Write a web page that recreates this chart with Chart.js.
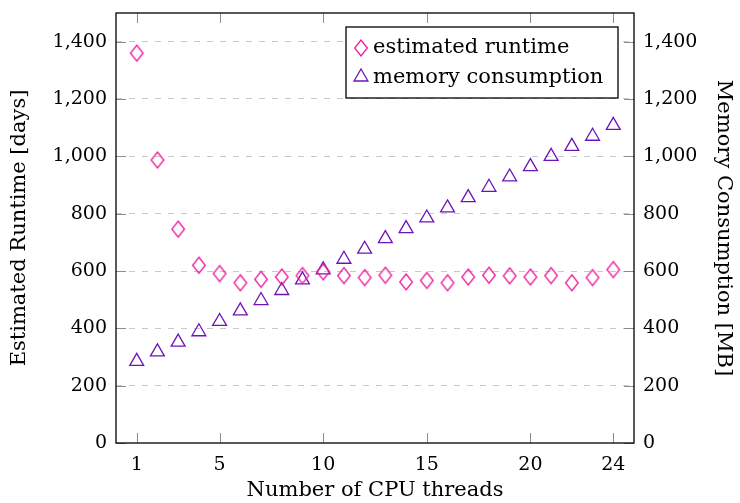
<!DOCTYPE html>
<html>
<head>
<meta charset="utf-8">
<script src="https://cdn.jsdelivr.net/npm/chart.js@4.4.0/dist/chart.umd.min.js"></script>
<style>
  html, body { margin: 0; padding: 0; background: #fff; }
</style>
</head>
<body>
<canvas id="myChart" width="740" height="503"></canvas>
<script>
// data
const threads = [1, 2, 3, 4, 5, 6, 7, 8, 9, 10, 11, 12, 13, 14, 15, 16, 17, 18, 19, 20, 21, 22, 23, 24];
const runtimeDays = [1360, 987, 746, 620, 591, 559, 571, 579, 584, 597, 584, 577, 585, 562, 567, 559, 579, 585, 583, 579, 584, 559, 577, 605];
const memoryMB = [285, 318, 352, 388, 424, 461, 497, 532, 569, 604, 641, 676, 713, 748, 785, 820, 856, 892, 928, 964, 1000, 1035, 1070, 1108];
const xTickValues = [1, 5, 10, 15, 20, 24];
const yTickValues = [0, 200, 400, 600, 800, 1000, 1200, 1400];
const seriesNames = ['estimated runtime', 'memory consumption'];

const pink = '#ee1a9c';
const violet = '#6c14b8';
const fontFamily = '"DejaVu Serif", serif';

// diamond marker, taller than wide like the pgfplots one
function makeDiamond(color) {
    const c = document.createElement('canvas');
    c.width = 16;
    c.height = 20;
    const g = c.getContext('2d');
    g.strokeStyle = color;
    g.lineWidth = 1.3;
    g.beginPath();
    g.moveTo(8, 2);
    g.lineTo(14.3, 10);
    g.lineTo(8, 18);
    g.lineTo(1.7, 10);
    g.closePath();
    g.stroke();
    return c;
}
const diamond = makeDiamond(pink);

function toPoints(xs, ys) {
    return xs.map((x, i) => ({ x: x, y: ys[i] }));
}

// no extra room for half labels, the plot box is fixed
function noPad(s) {
    s.paddingTop = 0;
    s.paddingBottom = 0;
    s.paddingLeft = 0;
    s.paddingRight = 0;
}

// inner tick marks + black frame
const framePlugin = {
    id: 'frame',
    beforeDatasetsDraw(chart) {
        const ctx = chart.ctx;
        const a = chart.chartArea;
        const sx = chart.scales.x, sy = chart.scales.y, sy2 = chart.scales.y2;
        const len = 10;
        ctx.save();
        ctx.strokeStyle = '#8c8c8c';
        ctx.lineWidth = 1;
        ctx.beginPath();
        xTickValues.forEach(v => {
            const px = Math.round(sx.getPixelForValue(v)) + 0.5;
            ctx.moveTo(px, a.bottom); ctx.lineTo(px, a.bottom - len);
            ctx.moveTo(px, a.top); ctx.lineTo(px, a.top + len);
        });
        yTickValues.forEach(v => {
            const py = Math.round(sy.getPixelForValue(v)) + 0.5;
            ctx.moveTo(a.left, py); ctx.lineTo(a.left + len, py);
            const py2 = Math.round(sy2.getPixelForValue(v)) + 0.5;
            ctx.moveTo(a.right, py2); ctx.lineTo(a.right - len, py2);
        });
        ctx.stroke();
        ctx.restore();
    },
    afterDatasetsDraw(chart) {
        const ctx = chart.ctx;
        const a = chart.chartArea;
        ctx.save();
        ctx.strokeStyle = '#000';
        ctx.lineWidth = 1.3;
        ctx.strokeRect(a.left, a.top, a.right - a.left, a.bottom - a.top);
        ctx.restore();
    }
};

// boxed legend in the upper right corner of the plot
const boxLegend = {
    id: 'boxLegend',
    afterDraw(chart) {
        const ctx = chart.ctx;
        const a = chart.chartArea;
        const right = a.right - 16, top = a.top + 14;
        const w = 272, h = 71;
        const left = right - w;
        ctx.save();
        ctx.fillStyle = '#fff';
        ctx.fillRect(left, top, w, h);
        ctx.strokeStyle = '#000';
        ctx.lineWidth = 1.3;
        ctx.strokeRect(left, top, w, h);

        // row 1: diamond
        ctx.drawImage(diamond, left + 15 - 8, top + 21 - 10);
        // row 2: triangle (same geometry as chart.js 'triangle')
        const tx = left + 15, ty = top + 50, r = 8;
        ctx.strokeStyle = violet;
        ctx.lineWidth = 1.3;
        ctx.beginPath();
        ctx.moveTo(tx, ty - r);
        ctx.lineTo(tx + r * Math.sin(2 * Math.PI / 3), ty + r / 2);
        ctx.lineTo(tx - r * Math.sin(2 * Math.PI / 3), ty + r / 2);
        ctx.closePath();
        ctx.stroke();

        ctx.fillStyle = '#000';
        ctx.font = '21px ' + fontFamily;
        ctx.textBaseline = 'alphabetic';
        ctx.textAlign = 'left';
        ctx.fillText(seriesNames[0], left + 27, top + 26);
        ctx.fillText(seriesNames[1], left + 27, top + 56);
        ctx.restore();
    }
};

const ctx = document.getElementById('myChart').getContext('2d');
const myChart = new Chart(ctx, {
    type: 'scatter',
    data: {
        datasets: [{
            label: seriesNames[0],
            data: toPoints(threads, runtimeDays),
            yAxisID: 'y',
            pointStyle: diamond,
            pointRadius: 8,
            borderColor: pink,
            backgroundColor: 'rgba(0,0,0,0)'
        }, {
            label: seriesNames[1],
            data: toPoints(threads, memoryMB),
            yAxisID: 'y2',
            pointStyle: 'triangle',
            pointRadius: 8,
            borderWidth: 1.3,
            borderColor: violet,
            backgroundColor: 'rgba(0,0,0,0)'
        }]
    },
    options: {
        responsive: false,
        animation: false,
        layout: { padding: { top: 13, left: 0, right: 0, bottom: 0 } },
        plugins: {
            legend: { display: false },
            tooltip: { enabled: false }
        },
        scales: {
            x: {
                type: 'linear',
                min: 0,
                max: 25,
                afterBuildTicks: s => { s.ticks = xTickValues.map(v => ({ value: v })); },
                afterFit: s => { s.height = 60; noPad(s); },
                grid: { display: false },
                border: { display: false },
                ticks: {
                    color: '#000',
                    padding: 3,
                    maxRotation: 0,
                    autoSkip: false,
                    font: { family: fontFamily, size: 19 }
                },
                title: {
                    display: true,
                    text: 'Number of CPU threads',
                    color: '#000',
                    padding: { top: -3, bottom: 0 },
                    font: { family: fontFamily, size: 21 }
                }
            },
            y: {
                position: 'left',
                min: 0,
                max: 1500,
                afterBuildTicks: s => { s.ticks = yTickValues.map(v => ({ value: v })); },
                afterFit: s => { s.width = 116; noPad(s); },
                grid: {
                    color: ctx => ctx.tick && ctx.tick.value > 0 ? '#c8c8c8' : 'rgba(0,0,0,0)',
                    lineWidth: 1,
                    drawTicks: false
                },
                border: { display: false, dash: [6, 7] },
                ticks: {
                    color: '#000',
                    padding: 9,
                    font: { family: fontFamily, size: 19 },
                    callback: v => v.toLocaleString('en-US')
                },
                title: {
                    display: true,
                    text: 'Estimated Runtime [days]',
                    color: '#000',
                    padding: { top: 7, bottom: 0 },
                    font: { family: fontFamily, size: 21 }
                }
            },
            y2: {
                position: 'right',
                min: 0,
                max: 1500,
                afterBuildTicks: s => { s.ticks = yTickValues.map(v => ({ value: v })); },
                afterFit: s => { s.width = 106; noPad(s); },
                grid: { display: false, drawTicks: false },
                border: { display: false },
                ticks: {
                    color: '#000',
                    padding: 9,
                    font: { family: fontFamily, size: 19 },
                    callback: v => v.toLocaleString('en-US')
                },
                title: {
                    display: true,
                    text: 'Memory Consumption [MB]',
                    color: '#000',
                    padding: { top: 4, bottom: 0 },
                    font: { family: fontFamily, size: 21 }
                }
            }
        }
    },
    plugins: [framePlugin, boxLegend]
});
</script>
</body>
</html>
